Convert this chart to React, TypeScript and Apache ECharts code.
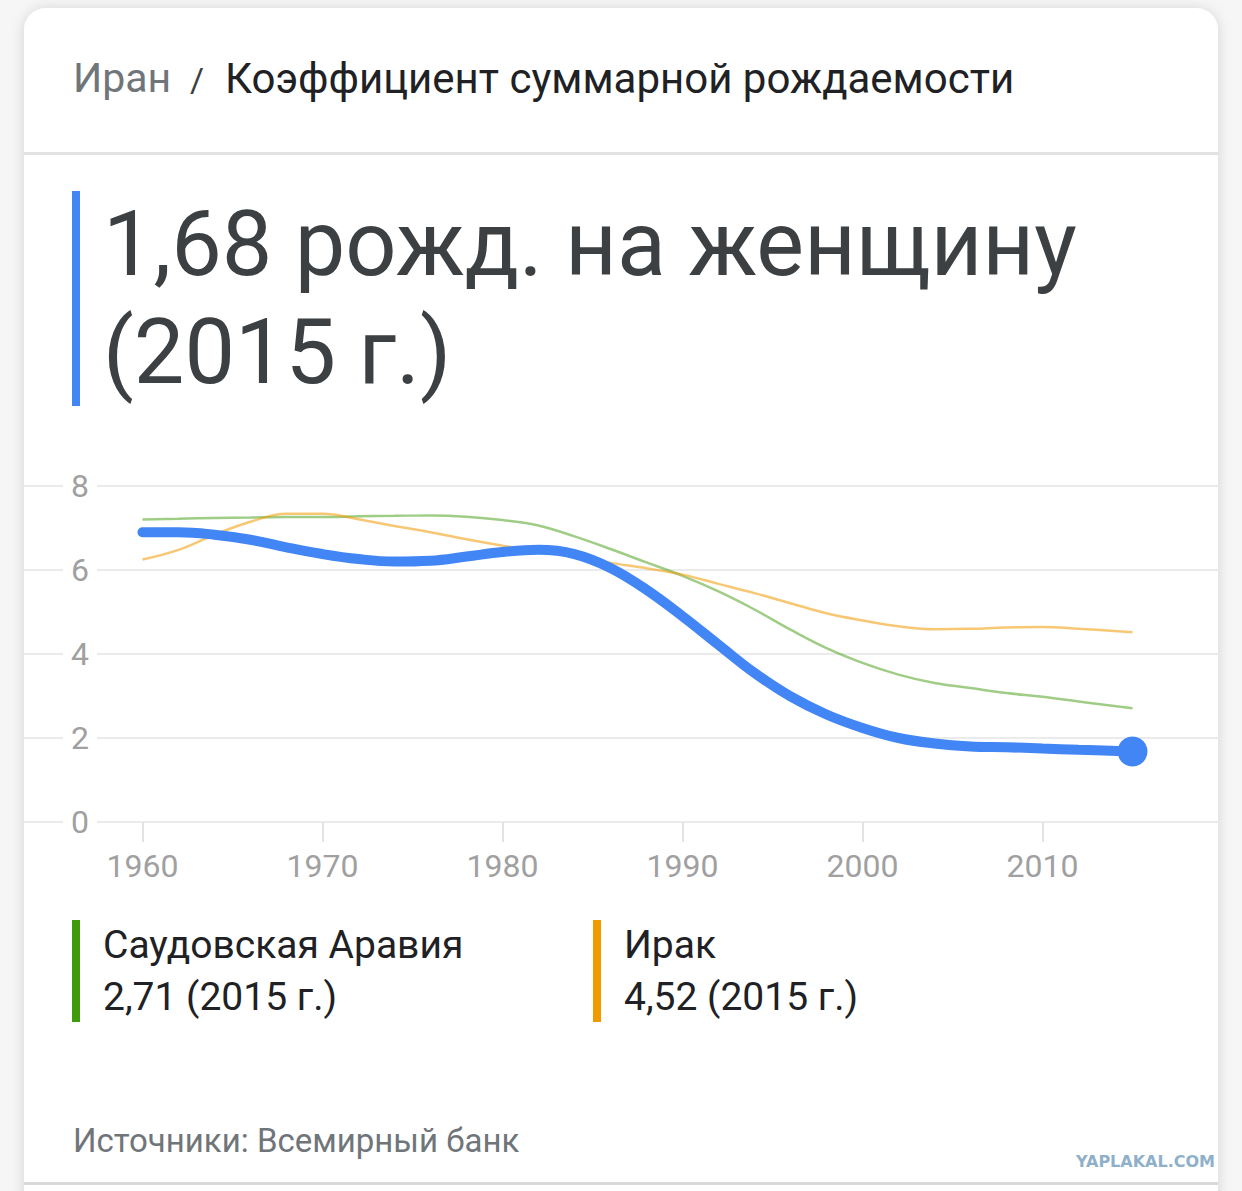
import React, { useEffect, useRef } from "react";
import * as echarts from "echarts";

const years = [1960, 1962, 1964, 1966, 1968, 1970, 1972, 1974, 1976, 1978, 1980, 1982, 1984, 1986, 1988, 1990, 1992, 1994, 1996, 1998, 2000, 2002, 2004, 2006, 2008, 2010, 2012, 2015];
const iranValues = [6.9, 6.9, 6.84, 6.72, 6.54, 6.38, 6.26, 6.2, 6.22, 6.32, 6.43, 6.48, 6.38, 6.05, 5.53, 4.9, 4.22, 3.55, 2.99, 2.56, 2.24, 2.0, 1.87, 1.8, 1.78, 1.75, 1.72, 1.68];
const saudiValues = [7.2, 7.22, 7.24, 7.25, 7.26, 7.26, 7.28, 7.29, 7.3, 7.27, 7.19, 7.06, 6.8, 6.5, 6.18, 5.86, 5.49, 5.06, 4.58, 4.14, 3.79, 3.51, 3.31, 3.19, 3.07, 2.98, 2.87, 2.71];
const iraqValues = [6.25, 6.48, 6.84, 7.15, 7.34, 7.34, 7.21, 7.05, 6.9, 6.73, 6.58, 6.44, 6.32, 6.17, 6.04, 5.89, 5.67, 5.45, 5.21, 4.97, 4.8, 4.66, 4.59, 4.6, 4.63, 4.64, 4.6, 4.52];
const xTickYears = [1960, 1970, 1980, 1990, 2000, 2010];

const countryName = "Иран";
const indicatorName = "Коэффициент суммарной рождаемости";
const headlineLine1 = "1,68 рожд. на женщину";
const headlineLine2 = "(2015 г.)";
const legendSaudiName = "Саудовская Аравия";
const legendSaudiValue = "2,71 (2015 г.)";
const legendIraqName = "Ирак";
const legendIraqValue = "4,52 (2015 г.)";
const sourceText = "Источники: Всемирный банк";

const BLUE = "#4285f4";
const GREEN = "#3f9b0b";
const ORANGE = "#f29900";
const FONT = "Roboto";

export default function App() {
  const ref = useRef<HTMLDivElement>(null);
  useEffect(() => {
    if (!ref.current) return;
    const chart = echarts.init(ref.current, undefined, { renderer: "svg" });
    const pairs = (vals: number[]) => years.map((y, i) => [y, vals[i]]);
    const last = years.length - 1;
    const txt = (x: number, y: number, text: string, size: number, fill: string, align = "left", extra: any = {}) => ({
      type: "text",
      x,
      y,
      z: 10,
      style: { text, fontSize: size, fill, fontFamily: FONT, align, verticalAlign: "middle", ...extra },
    });
    chart.setOption({
      animation: false,
      backgroundColor: "#f6f6f6",
      grid: { left: 24, right: 24, top: 486, height: 336, containLabel: false },
      xAxis: {
        type: "value",
        min: 1953.42,
        max: 2019.75,
        axisLine: { show: false },
        splitLine: { show: false },
        axisTick: { show: true, customValues: xTickYears, length: 20, lineStyle: { color: "#e3e3e3", width: 2 } },
        axisLabel: {
          customValues: xTickYears,
          fontSize: 32,
          color: "#a0a0a0",
          fontFamily: FONT,
          margin: 28,
          formatter: (v: number) => String(v),
        },
      },
      yAxis: {
        type: "value",
        min: 0,
        max: 8,
        interval: 2,
        axisLine: { show: false },
        axisTick: { show: false },
        splitLine: { lineStyle: { color: "#ebebeb", width: 2 } },
        axisLabel: {
          inside: true,
          margin: 39,
          padding: [0, 8],
          backgroundColor: "#ffffff",
          fontSize: 32,
          color: "#a0a0a0",
          fontFamily: FONT,
        },
      },
      graphic: [
        {
          type: "rect",
          z: -10,
          shape: { x: 24, y: 8, width: 1194, height: 1260, r: 22 },
          style: { fill: "#ffffff", shadowBlur: 14, shadowColor: "rgba(0,0,0,0.14)", shadowOffsetY: 1 },
        },
        { type: "rect", z: -5, shape: { x: 24, y: 152, width: 1194, height: 3 }, style: { fill: "#e2e2e2" } },
        { type: "rect", z: -5, shape: { x: 24, y: 1182, width: 1194, height: 3 }, style: { fill: "#d9d9d9" } },
        txt(73, 78, countryName, 41, "#70757a"),
        txt(197, 80, "/", 34, "#3c4043", "center"),
        txt(225, 78, indicatorName, 42, "#202124"),
        { type: "rect", shape: { x: 72, y: 191, width: 8, height: 215 }, style: { fill: BLUE } },
        txt(103, 244, headlineLine1, 90, "#3c4043"),
        txt(103, 352, headlineLine2, 90, "#3c4043"),
        { type: "rect", shape: { x: 72, y: 920, width: 8, height: 102 }, style: { fill: GREEN } },
        txt(103, 945, legendSaudiName, 39, "#202124"),
        txt(103, 997, legendSaudiValue, 39, "#202124"),
        { type: "rect", shape: { x: 593, y: 920, width: 8, height: 102 }, style: { fill: ORANGE } },
        txt(624, 945, legendIraqName, 39, "#202124"),
        txt(624, 997, legendIraqValue, 39, "#202124"),
        txt(73, 1140, sourceText, 33, "#70757a"),
        txt(1215, 1161, "YAPLAKAL.COM", 16, "#8fb0c9", "right", { fontFamily: "DejaVu Sans", fontWeight: "bold" }),
      ],
      series: [
        {
          type: "line",
          data: pairs(saudiValues),
          smooth: 0.4,
          symbol: "none",
          lineStyle: { color: GREEN, width: 2.5, opacity: 0.5 },
          z: 2,
        },
        {
          type: "line",
          data: pairs(iraqValues),
          smooth: 0.4,
          symbol: "none",
          lineStyle: { color: ORANGE, width: 2.5, opacity: 0.55 },
          z: 3,
        },
        {
          type: "line",
          data: pairs(iranValues),
          smooth: 0.4,
          symbol: "none",
          lineStyle: { color: BLUE, width: 10, cap: "round" },
          z: 4,
        },
        {
          type: "scatter",
          data: [[years[last], iranValues[last]]],
          symbol: "circle",
          symbolSize: 30,
          itemStyle: { color: BLUE, opacity: 1 },
          z: 5,
        },
      ],
    });
    return () => chart.dispose();
  }, []);
  return <div ref={ref} style={{ position: "fixed", left: 0, top: 0, width: 1242, height: 1191 }} />;
}
